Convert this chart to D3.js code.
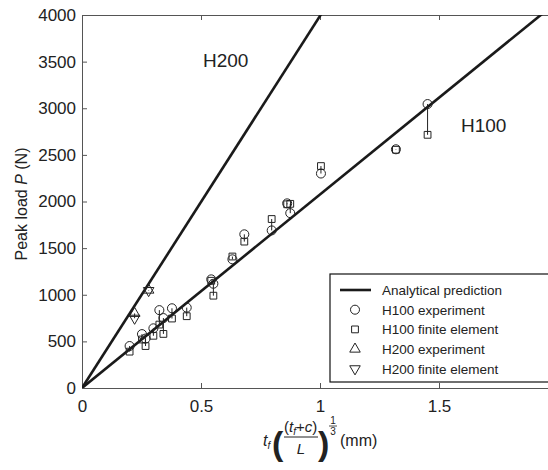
<!DOCTYPE html>
<html lang="en">
<head>
    <meta charset="utf-8">
    <title>Peak load</title>
    <script type="text/javascript" src="https://d3js.org/d3.v7.min.js"></script>
    <style>
        body { margin: 0; background: #fff; }
        text { font-family: "Liberation Sans", Arial, sans-serif; fill: #222; }
        .tick-label { font-size: 17px; }
        .legend-text { font-size: 13.5px; }
        .series-label { font-size: 19px; }
        .marker { fill: none; stroke: #222; stroke-width: 1; }
    </style>
</head>
<body>
<div id="container"></div>
<script type="text/javascript">
    // analytical prediction lines (P = k * x)
    const lineNames = ["H100", "H200"];
    const lineSlopes = [2075, 3990];

    // H100 specimens: x value, experiment, finite element
    const h100X = [0.20, 0.252, 0.267, 0.30, 0.325, 0.342, 0.378, 0.44, 0.543, 0.552, 0.632, 0.682, 0.797, 0.862, 0.875, 1.004, 1.319, 1.452];
    const h100Exp = [450, 578, 530, 640, 835, 750, 855, 862, 1165, 1118, 1380, 1648, 1690, 1980, 1875, 2300, 2560, 3045];
    const h100Fe = [390, 520, 450, 560, 680, 580, 745, 770, 1150, 990, 1410, 1570, 1812, 1970, 1975, 2380, 2555, 2715];

    // H200 specimens
    const h200X = [0.221, 0.280];
    const h200Exp = [800, 1050];
    const h200Fe = [748, 1045];

    const xTicks = [0, 0.5, 1, 1.5, 2];
    const yTicks = [0, 500, 1000, 1500, 2000, 2500, 3000, 3500, 4000];
    const legendItems = ["Analytical prediction", "H100 experiment", "H100 finite element", "H200 experiment", "H200 finite element"];

    const w = 548, h = 470;
    const m = {left: 82, top: 15, width: 476, height: 373};

    const svg = d3.select("#container").append("svg").attr("width", w).attr("height", h);
    const x = d3.scaleLinear().domain([0, 2]).range([m.left, m.left + m.width]);
    const y = d3.scaleLinear().domain([0, 4000]).range([m.top + m.height, m.top]);

    svg.append("clipPath").attr("id", "plot-clip")
        .append("rect").attr("x", m.left).attr("y", m.top).attr("width", m.width).attr("height", m.height);

    // axes (MATLAB style: ticks inward, box)
    const axisColor = "#555";
    const xAxis = svg.append("g").attr("transform", "translate(0," + y(0) + ")")
        .call(d3.axisBottom(x).tickValues(xTicks).tickSize(-5).tickPadding(12).tickFormat(d3.format("")));
    const yAxis = svg.append("g").attr("transform", "translate(" + x(0) + ",0)")
        .call(d3.axisLeft(y).tickValues(yTicks).tickSize(-5).tickPadding(6).tickFormat(d3.format("d")));
    const xTop = svg.append("g").attr("transform", "translate(0," + y(4000) + ")")
        .call(d3.axisTop(x).tickValues(xTicks).tickSize(-5).tickFormat(""));
    [xAxis, yAxis, xTop].forEach(function (g) {
        g.selectAll("path").attr("stroke", axisColor);
        g.selectAll("line").attr("stroke", axisColor);
        g.selectAll("text").attr("class", "tick-label").attr("fill", "#222");
    });

    const plot = svg.append("g").attr("clip-path", "url(#plot-clip)");

    // analytical lines
    plot.selectAll("line.analytical")
        .data(lineSlopes)
        .enter()
        .append("line")
        .attr("class", "analytical")
        .attr("x1", x(0)).attr("y1", y(0))
        .attr("x2", x(2))
        .attr("y2", function (d) { return y(d * 2); })
        .attr("stroke", "#1a1a1a")
        .attr("stroke-width", 2.6);

    // connectors between experiment and FE
    const h100 = h100X.map(function (d, i) { return {x: d, e: h100Exp[i], f: h100Fe[i]}; });
    const h200 = h200X.map(function (d, i) { return {x: d, e: h200Exp[i], f: h200Fe[i]}; });

    plot.selectAll("line.link")
        .data(h100.concat(h200))
        .enter()
        .append("line")
        .attr("class", "link")
        .attr("x1", function (d) { return x(d.x); })
        .attr("x2", function (d) { return x(d.x); })
        .attr("y1", function (d) { return y(d.e); })
        .attr("y2", function (d) { return y(d.f); })
        .attr("stroke", "#222")
        .attr("stroke-width", 1);

    const circle = d3.symbol().type(d3.symbolCircle).size(64);
    const square = d3.symbol().type(d3.symbolSquare).size(46);
    const tri = d3.symbol().type(d3.symbolTriangle).size(48);

    plot.selectAll("path.h100e").data(h100).enter().append("path")
        .attr("class", "marker h100e").attr("d", circle)
        .attr("transform", function (d) { return "translate(" + x(d.x) + "," + y(d.e) + ")"; });
    plot.selectAll("path.h100f").data(h100).enter().append("path")
        .attr("class", "marker h100f").attr("d", square)
        .attr("transform", function (d) { return "translate(" + x(d.x) + "," + y(d.f) + ")"; });
    plot.selectAll("path.h200e").data(h200).enter().append("path")
        .attr("class", "marker h200e").attr("d", tri)
        .attr("transform", function (d) { return "translate(" + x(d.x) + "," + y(d.e) + ")"; });
    plot.selectAll("path.h200f").data(h200).enter().append("path")
        .attr("class", "marker h200f").attr("d", tri)
        .attr("transform", function (d) { return "translate(" + x(d.x) + "," + y(d.f) + ") rotate(180)"; });

    // series labels
    svg.append("text").attr("class", "series-label").attr("x", 203).attr("y", 67).text(lineNames[1]);
    svg.append("text").attr("class", "series-label").attr("x", 461).attr("y", 132).text(lineNames[0]);

    // legend
    const lg = svg.append("g").attr("transform", "translate(330,274)");
    lg.append("rect").attr("width", 240).attr("height", 108)
        .attr("fill", "#fff").attr("stroke", "#111").attr("stroke-width", 1.2);
    const rows = lg.selectAll("g.row").data(legendItems).enter().append("g")
        .attr("class", "row")
        .attr("transform", function (d, i) { return "translate(0," + (16 + i * 19.7) + ")"; });
    rows.append("text").attr("class", "legend-text").attr("x", 52).attr("y", 5).text(function (d) { return d; });
    rows.each(function (d, i) {
        const r = d3.select(this);
        if (i === 0) {
            r.append("line").attr("x1", 10).attr("x2", 41).attr("stroke", "#1a1a1a").attr("stroke-width", 2.6);
        } else {
            const sym = [circle, square, tri, tri][i - 1];
            r.append("path").attr("class", "marker").attr("d", sym)
                .attr("transform", "translate(25,0)" + (i === 4 ? " rotate(180)" : ""));
        }
    });

    // y label
    const yl = svg.append("text").attr("transform", "translate(27,204) rotate(-90)")
        .attr("text-anchor", "middle").style("font-size", "16px");
    yl.append("tspan").text("Peak load ");
    yl.append("tspan").style("font-style", "italic").text("P");
    yl.append("tspan").text(" (N)");

    // x label: t_f ((t_f+c)/L)^(1/3) (mm)
    const xl = svg.append("g");
    const t1 = xl.append("text").attr("x", 263).attr("y", 446).style("font-size", "16px");
    t1.append("tspan").style("font-style", "italic").text("t");
    t1.append("tspan").style("font-style", "italic").style("font-size", "10px").attr("dy", 3).text("f");
    xl.append("text").attr("x", 272).attr("y", 455).style("font-size", "34px").style("font-weight", "bold").text("(");
    const num = xl.append("text").attr("x", 284).attr("y", 432).style("font-size", "15px");
    num.append("tspan").text("(");
    num.append("tspan").style("font-style", "italic").text("t");
    num.append("tspan").style("font-style", "italic").style("font-size", "10px").attr("dy", 3).text("f");
    num.append("tspan").attr("dy", -3).text("+");
    num.append("tspan").style("font-style", "italic").text("c");
    num.append("tspan").text(")");
    xl.append("line").attr("x1", 284).attr("x2", 318).attr("y1", 437).attr("y2", 437).attr("stroke", "#222").attr("stroke-width", 1);
    xl.append("text").attr("x", 301).attr("y", 454).attr("text-anchor", "middle")
        .style("font-size", "15px").style("font-style", "italic").text("L");
    xl.append("text").attr("x", 318).attr("y", 455).style("font-size", "34px").style("font-weight", "bold").text(")");
    xl.append("text").attr("x", 333).attr("y", 424).attr("text-anchor", "middle").style("font-size", "10px").text("1");
    xl.append("line").attr("x1", 329).attr("x2", 337).attr("y1", 426).attr("y2", 426).attr("stroke", "#222").attr("stroke-width", 0.8);
    xl.append("text").attr("x", 333).attr("y", 435).attr("text-anchor", "middle").style("font-size", "10px").text("3");
    xl.append("text").attr("x", 340).attr("y", 446).style("font-size", "16px").text("(mm)");
</script>
</body>
</html>
